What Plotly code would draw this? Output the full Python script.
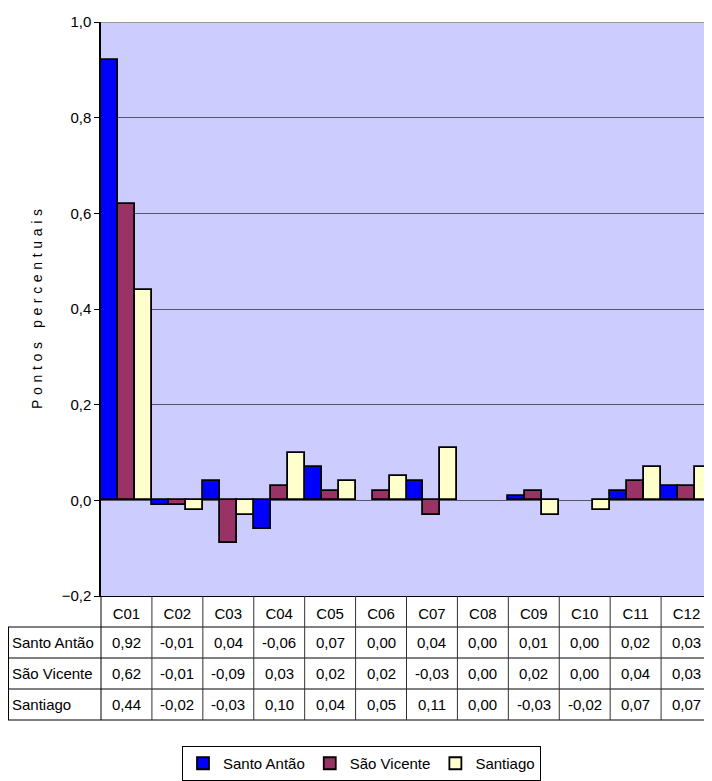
import plotly.graph_objects as go

categories = ["C01", "C02", "C03", "C04", "C05", "C06", "C07", "C08", "C09", "C10", "C11", "C12"]
series_names = ["Santo Antão", "São Vicente", "Santiago"]
santo_antao = [0.92, -0.01, 0.04, -0.06, 0.07, 0.00, 0.04, 0.00, 0.01, 0.00, 0.02, 0.03]
sao_vicente = [0.62, -0.01, -0.09, 0.03, 0.02, 0.02, -0.03, 0.00, 0.02, 0.00, 0.04, 0.03]
santiago = [0.44, -0.02, -0.03, 0.10, 0.04, 0.05, 0.11, 0.00, -0.03, -0.02, 0.07, 0.07]
y_ticks = [-0.2, 0.0, 0.2, 0.4, 0.6, 0.8, 1.0]
y_title = "Pontos percentuais"

series_values = [santo_antao, sao_vicente, santiago]
colors = ["#0000FF", "#993366", "#FFFFCC"]

OFF = 8  # page body margin
W, H = 712 - OFF, 781 - OFF
FONT = "Arial, Liberation Sans, sans-serif"
FS = 15

def py(pix):
    return 1 - (pix - OFF) / H

def px(pix):
    return (pix - OFF) / W

fig = go.Figure()
for name, vals, col in zip(series_names, series_values, colors):
    fig.add_trace(go.Bar(
        x=categories, y=vals, name=name,
        marker=dict(color=col,
                    line=dict(color="black", width=[1.8 if v != 0 else 0 for v in vals])),
    ))

spaced_title = "\u2004".join(list(y_title)).replace("\u2004 \u2004", "\u2002\u2002")

fig.update_layout(
    width=W, height=H,
    margin=dict(l=0, r=0, t=0, b=0, autoexpand=False),
    paper_bgcolor="white",
    plot_bgcolor="#CCCCFF",
    separators=", ",
    font=dict(family=FONT, size=FS, color="black"),
    barmode="group", bargap=0, bargroupgap=0,
    showlegend=True,
    legend=dict(
        orientation="h", x=px(182), y=py(746), xanchor="left", yanchor="top",
        bordercolor="black", borderwidth=1, bgcolor="white",
        font=dict(family=FONT, size=FS),
        itemwidth=30,
        traceorder="normal",
    ),
    xaxis=dict(
        domain=[px(101), 1], range=[-0.5, 11.5], automargin=False,
        showline=True, linecolor="black", linewidth=1,
        ticks="", showgrid=False,
        tickfont=dict(family=FONT, size=FS),
        ticklabelstandoff=4,
    ),
    yaxis=dict(
        domain=[py(596), py(22)], range=[-0.2, 1.0], automargin=False,
        tickvals=y_ticks, tickformat=".1f",
        ticks="outside", ticklen=5, tickcolor="black",
        showline=True, linecolor="black", linewidth=1.5,
        showgrid=True, gridcolor="#55556A", gridwidth=1,
        zeroline=True, zerolinecolor="#55556A", zerolinewidth=1,
        tickfont=dict(family=FONT, size=FS),
        title=dict(text=spaced_title, standoff=16, font=dict(family=FONT, size=14)),
    ),
)

# top border line of plot area at 1.0
fig.add_shape(type="line", xref="paper", yref="y", x0=px(101), x1=1, y0=1.0, y1=1.0,
              line=dict(color="#999999", width=2))

# data table below the chart
row_edges = [627, 658, 689, 720]
line_style = dict(color="black", width=1)
for yy in row_edges:
    fig.add_shape(type="line", xref="paper", yref="paper", x0=px(8), x1=1,
                  y0=py(yy), y1=py(yy), line=line_style)
fig.add_shape(type="line", xref="paper", yref="paper", x0=px(8.5), x1=px(8.5),
              y0=py(row_edges[0]), y1=py(row_edges[-1]), line=line_style)
fig.add_shape(type="line", xref="paper", yref="paper", x0=px(101), x1=px(101),
              y0=py(596), y1=py(row_edges[-1]), line=line_style)
for i in range(len(categories) - 1):
    fig.add_shape(type="line", xref="x", yref="paper", x0=i + 0.5, x1=i + 0.5,
                  y0=py(596), y1=py(row_edges[-1]), line=dict(color="#333333", width=1))

for r, (name, vals) in enumerate(zip(series_names, series_values)):
    yc = (row_edges[r] + row_edges[r + 1]) / 2
    fig.add_annotation(xref="paper", yref="paper", x=px(10), y=py(yc),
                       xanchor="left", yanchor="middle", text=name, showarrow=False,
                       font=dict(family=FONT, size=FS))
    for c, v in zip(categories, vals):
        txt = f"{v:.2f}".replace(".", ",")
        fig.add_annotation(xref="x", yref="paper", x=c, y=py(yc),
                           xanchor="center", yanchor="middle", text=txt, showarrow=False,
                           font=dict(family=FONT, size=FS))

fig.write_html("out.html")
